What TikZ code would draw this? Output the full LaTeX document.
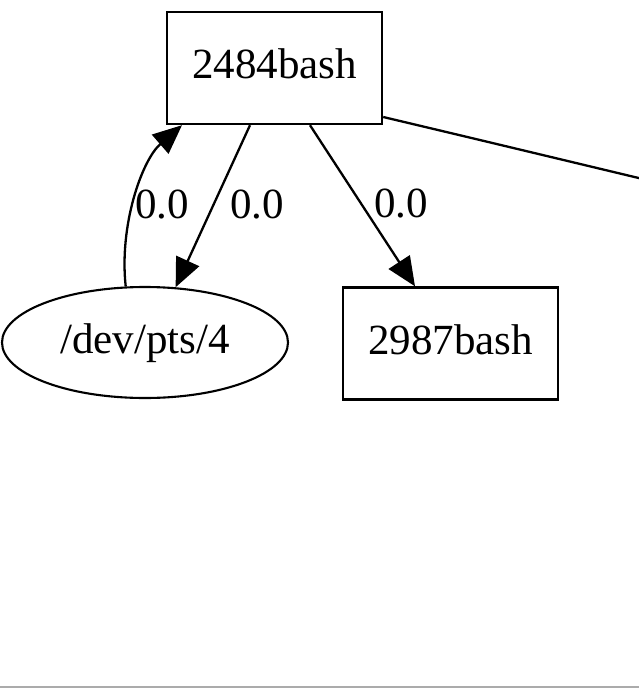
\documentclass[tikz,border=0pt]{standalone}
\usepackage{fontspec}
\setmainfont{Liberation Serif}
\usetikzlibrary{arrows.meta,shapes.geometric,calc}
\begin{document}
\begin{tikzpicture}[x=1pt,y=-1pt,
  every node/.style={font=\fontsize{43}{50}\selectfont},
  proc/.style={draw,line width=2.4pt,rectangle,inner sep=0pt,
    minimum width=215pt,minimum height=112pt,text height=21pt,text depth=0pt},
  tty/.style={draw,line width=2.1pt,ellipse,inner sep=0pt,
    minimum width=286pt,minimum height=111pt,text height=21pt,text depth=0pt},
  flow/.style={line width=2.3pt,-{Triangle[length=29pt,width=25pt]}},
  wlabel/.style={inner sep=0pt}]
  \useasboundingbox (0,0) rectangle (639,688);
  \clip (0,0) rectangle (639,688);
  % bottom rule
  \fill[black!33] (0,685.5) rectangle (639,688);

  % process and terminal nodes
  \node[proc] (p2484) at (274.5,68) {2484bash};
  \node[proc] (p2987) at (450.5,343.5) {2987bash};
  \node[tty] (pts4) at (145,342.5) {/dev/pts/4};
  \coordinate (away) at (662,183.6);

  % edge weights
  \node[wlabel] (w1) at (162,205) {0.0};
  \node[wlabel] (w2) at (257,205) {0.0};
  \node[wlabel] (w3) at (401,204) {0.0};

  % connectors
  \draw[flow] ([xshift=-24.5pt]p2484.south) -- (pts4.61);
  \draw[flow] (pts4.109) .. controls (119,225) and (142,160) .. ([xshift=-92.5pt]p2484.south);
  \draw[flow] ([xshift=35.5pt]p2484.south) -- ([xshift=-35.5pt]p2987.north);
  \draw[line width=2.3pt] ([yshift=-49pt]p2484.east) .. controls (480,140) .. (away);
\end{tikzpicture}
\end{document}
